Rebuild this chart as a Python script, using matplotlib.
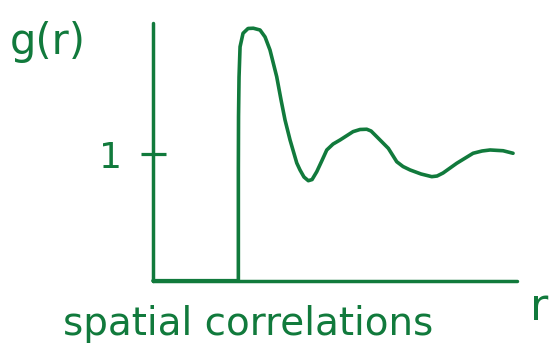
import matplotlib
matplotlib.use("Agg")
import matplotlib.pyplot as plt

# Data: r in units of the particle diameter, g(r)
r_vals = [0.0, 1.004, 1.004, 1.006, 1.012, 1.024, 1.059, 1.118, 1.18, 1.259, 1.318,
          1.376, 1.455, 1.506, 1.553, 1.612, 1.691, 1.729, 1.776, 1.827, 1.871,
          1.926, 1.985, 2.044, 2.118, 2.2, 2.353, 2.435, 2.514, 2.565, 2.632,
          2.768, 2.867, 2.941, 3.024, 3.153, 3.279, 3.341, 3.412, 3.573, 3.765,
          3.871, 3.965, 4.118, 4.235]
g_vals = [0.0, 0.0, 0.876, 1.30, 1.61, 1.85, 1.957, 1.995, 1.997, 1.983, 1.928,
          1.825, 1.614, 1.43, 1.271, 1.113, 0.931, 0.876, 0.82, 0.791, 0.80,
          0.862, 0.947, 1.034, 1.081, 1.113, 1.179, 1.196, 1.198, 1.184, 1.139,
          1.047, 0.941, 0.903, 0.876, 0.844, 0.823, 0.828, 0.852, 0.929, 1.008,
          1.026, 1.034, 1.028, 1.008]
y_ticks = [1]
y_tick_labels = ["1"]

green = "#117a3c"
W, H = 556, 349
fig = plt.figure(figsize=(W / 100, H / 100), dpi=100)
ax = fig.add_axes([153 / W, 1 - 280.7 / H, (516.7 - 153) / W, (280.7 - 23.3) / H])
ax.set_xlim(0, 4.278)
ax.set_ylim(0, 2.036)

ax.plot(r_vals, g_vals, color=green, lw=2.6, solid_joinstyle="round",
        solid_capstyle="round", clip_on=False)

for s in ["top", "right"]:
    ax.spines[s].set_visible(False)
for s in ["left", "bottom"]:
    ax.spines[s].set_color(green)
    ax.spines[s].set_linewidth(2.5)
    ax.spines[s].set_capstyle("round")

ax.set_xticks([])
ax.set_yticks(y_ticks)
ax.set_yticklabels(y_tick_labels)
ax.tick_params(axis="y", direction="inout", length=18, width=2.3, color=green,
               labelcolor=green, labelsize=26, pad=13)

fig.text(10 / W, 1 - 42 / H, "g(r)", color=green, fontsize=30, ha="left", va="center")
fig.text(63 / W, 1 - 335 / H, "spatial correlations", color=green, fontsize=28,
         ha="left", va="baseline")
fig.text(530 / W, 1 - 320 / H, "r", color=green, fontsize=32, ha="left", va="baseline")

fig.savefig("out.png", dpi=100)
